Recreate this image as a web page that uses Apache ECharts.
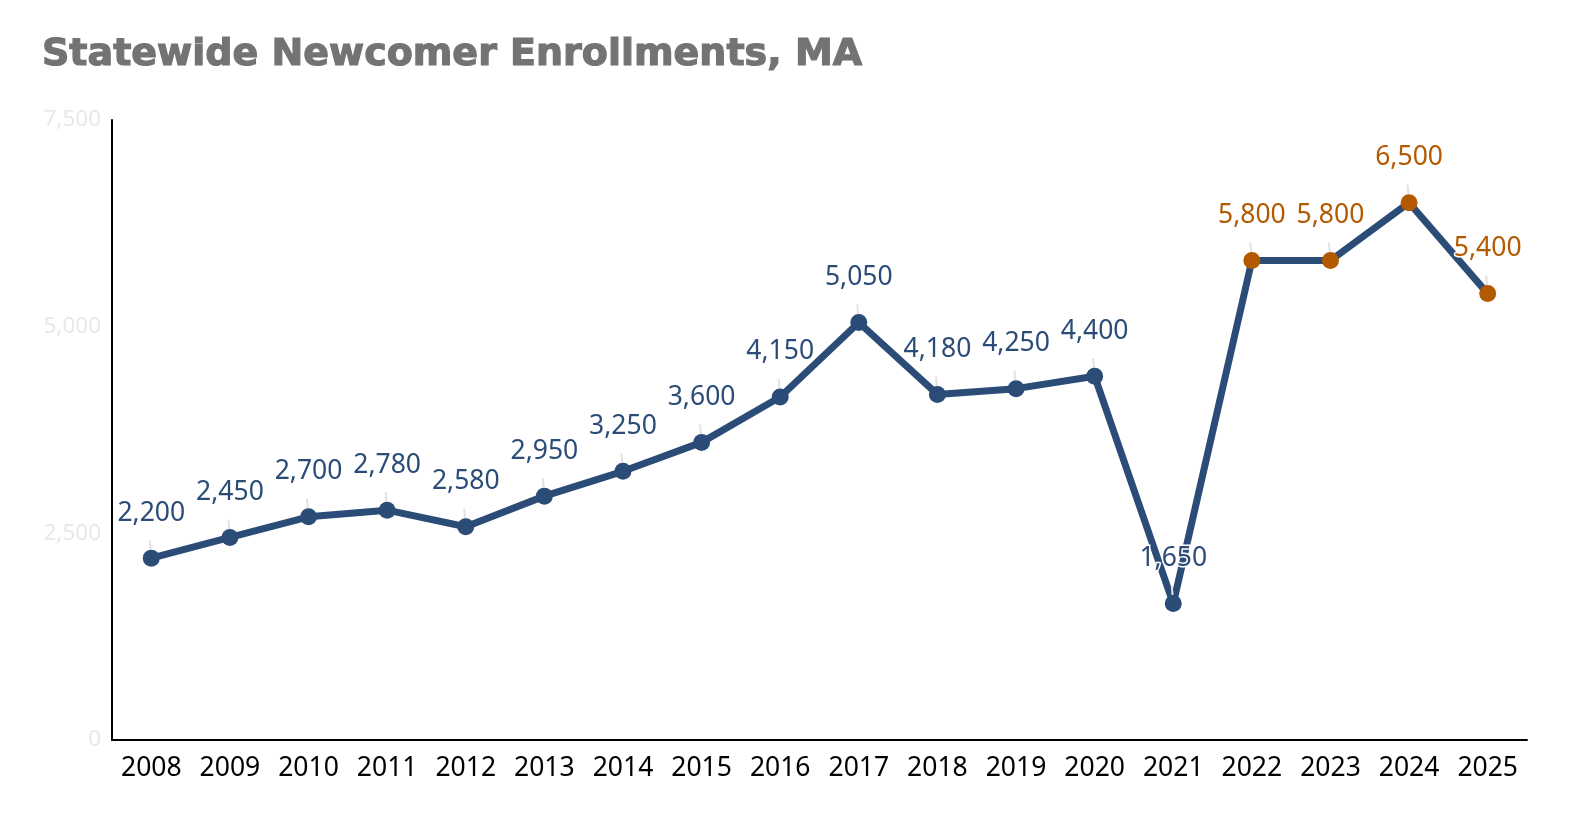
<!DOCTYPE html>
<html>
<head>
<meta charset="utf-8">
<script src="https://cdn.jsdelivr.net/npm/echarts@6/dist/echarts.min.js"></script>
<style>
  html, body { margin: 0; padding: 0; background: #fff; }
  #main { width: 1584px; height: 832px; }
</style>
</head>
<body>
<div id="main"></div>
<script>
  var years = ['2008','2009','2010','2011','2012','2013','2014','2015','2016','2017','2018','2019','2020','2021','2022','2023','2024','2025'];
  var enrollments = [2200, 2450, 2700, 2780, 2580, 2950, 3250, 3600, 4150, 5050, 4180, 4250, 4400, 1650, 5800, 5800, 6500, 5400];
  // years drawn in orange (recent surge)
  var highlightYears = ['2022','2023','2024','2025'];
  var yTicks = { min: 0, max: 7500, interval: 2500 };

  var blue = '#2b4c77';
  var orange = '#b35900';

  var chart = echarts.init(document.getElementById('main'));

  var series_data = [];
  for (var x = 0; x < years.length; x++) {
    var hot = highlightYears.indexOf(years[x]) >= 0;
    series_data.push({
      value: enrollments[x],
      itemStyle: { color: hot ? orange : blue },
      label: { color: hot ? orange : blue }
    });
  }

  chart.setOption({
    animation: false,
    title: {
      text: 'Statewide Newcomer Enrollments, MA',
      left: 37,
      top: 31,
      textStyle: {
        fontFamily: 'DejaVu Sans',
        fontWeight: 'bold',
        fontSize: 38,
        color: '#737373',
        textBorderColor: '#737373',
        textBorderWidth: 1.2
      }
    },
    grid: { left: 112, right: 57, top: 120, bottom: 92 },
    xAxis: {
      type: 'category',
      data: years,
      boundaryGap: true,
      axisLine: { lineStyle: { color: '#000', width: 2 } },
      axisTick: { show: false },
      axisLabel: {
        interval: 0,
        color: '#000',
        fontFamily: 'Noto Sans',
        fontSize: 26.5,
        margin: 15
      }
    },
    yAxis: {
      type: 'value',
      min: yTicks.min,
      max: yTicks.max,
      interval: yTicks.interval,
      splitLine: { show: false },
      axisLine: { show: true, lineStyle: { color: '#000', width: 2 } },
      axisTick: { show: false },
      axisLabel: {
        color: '#e8e8e8',
        fontFamily: 'Noto Sans',
        fontSize: 22.5,
        margin: 11,
        formatter: function (v) { return v.toLocaleString('en-US'); }
      }
    },
    series: [{
      type: 'line',
      data: series_data,
      symbol: 'circle',
      symbolSize: 17,
      lineStyle: { color: blue, width: 7 },
      itemStyle: { color: blue },
      label: {
        show: true,
        position: 'top',
        distance: 23,
        fontFamily: 'Noto Sans',
        fontSize: 26.5,
        textBorderColor: '#fff',
        textBorderWidth: 3,
        formatter: function (p) { return p.value.toLocaleString('en-US'); }
      },
      labelLine: {
        show: true,
        lineStyle: { color: '#e2e2e2', width: 2 }
      }
    }]
  });
</script>
</body>
</html>
